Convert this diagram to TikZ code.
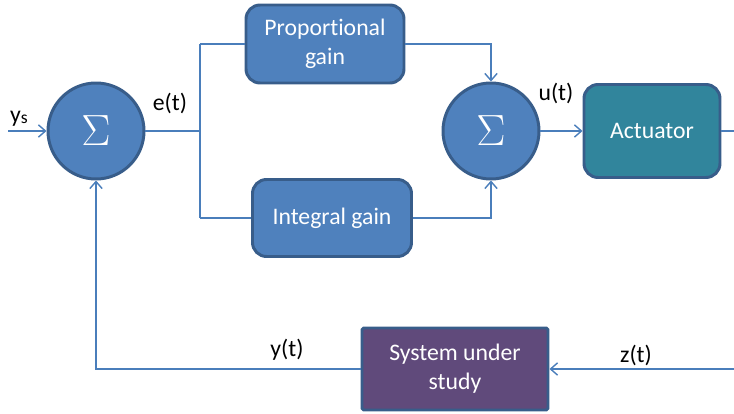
\documentclass[tikz,border=0pt]{standalone}
\usepackage{fontspec}
\setmainfont[Ligatures=NoCommon]{Carlito}
\usetikzlibrary{arrows.meta}
\definecolor{blockblue}{HTML}{4F81BD}
\definecolor{blockedge}{HTML}{385D8A}
\definecolor{wireblue}{HTML}{4A7EBB}
\definecolor{actteal}{HTML}{31859C}
\definecolor{sysplum}{HTML}{604A7B}
\begin{document}
\begin{tikzpicture}[
        font=\fontsize{13.5}{16.5}\selectfont,
        junction/.style={circle, draw=blockedge, line width=1.7pt, fill=blockblue, minimum size=1.92cm, inner sep=0pt, text=white, font=\fontsize{32}{32}\selectfont},
        gainbox/.style={rectangle, rounded corners=8pt, draw=blockedge, line width=1.7pt, fill=blockblue, text=white, align=center, inner sep=0pt},
        wire/.style={draw=wireblue, line width=0.8pt},
        >={Straight Barb[length=4pt, width=7pt]}
    ]
        \useasboundingbox (0,0) rectangle (14.68,8.28);
        % Summing junctions
        \node[junction] (S1) at (1.92, 5.66) {$\Sigma$};
        \node[junction] (S2) at (9.82, 5.66) {$\Sigma$};
        % Gains
        \node[gainbox, minimum width=3.16cm, minimum height=1.56cm] (P) at (6.50, 7.40) {Proportional\\gain};
        \node[gainbox, minimum width=3.18cm, minimum height=1.54cm] (I) at (6.64, 3.92) {Integral gain};
        % Actuator and plant
        \node[gainbox, fill=actteal, minimum width=2.72cm, minimum height=1.86cm] (A) at (13.04, 5.66) {Actuator};
        \node[gainbox, rounded corners=1pt, fill=sysplum, minimum width=3.72cm, minimum height=1.64cm] (G) at (9.10, 0.90) {System under\\study};
        % Free ends
        \coordinate (in) at (0.16, 5.66);
        \coordinate (split) at (4.00, 5.66);
        \coordinate (out) at (14.68, 5.66);
        \coordinate (dist) at (14.68, 0.90);

        % Connections
        \draw[wire, ->] (in) -- (S1);
        \draw[wire] (S1) -- (split);
        \draw[wire] (split |- P) -- (split |- I);
        \draw[wire] (split |- P) -- (P);
        \draw[wire] (split |- I) -- (I);
        \draw[wire, ->] (P) -| (S2);
        \draw[wire, ->] (I) -| (S2);
        \draw[wire, ->] (S2) -- (A);
        \draw[wire] (A) -- (out);
        \draw[wire, ->] (dist) -- (G);
        \draw[wire, ->] (G) -| (S1);

        % Signal labels
        \node (ys) at (0.38, 5.90) {y\raisebox{-0.1ex}{\fontsize{10}{10}\selectfont s}};
        \node (e) at (3.40, 6.22) {e(t)};
        \node (u) at (11.12, 6.42) {u(t)};
        \node (y) at (5.74, 1.28) {y(t)};
        \node (z) at (12.72, 1.18) {z(t)};
    \end{tikzpicture}
\end{document}
